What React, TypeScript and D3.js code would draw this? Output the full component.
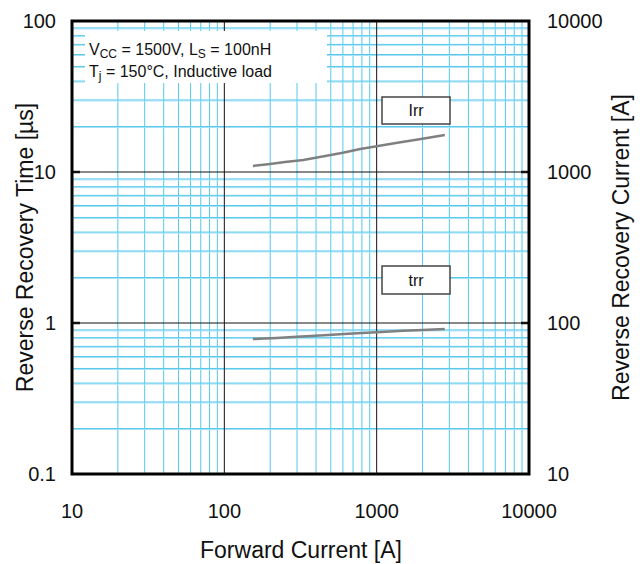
import React from "react";
import * as d3 from "d3";

const xTicks = [10, 100, 1000, 10000];
const yLeftTicks = [0.1, 1, 10, 100];
const yRightTicks = [10, 100, 1000, 10000];
const leftTickLabels = ["0.1", "1", "10", "100"];
const rightTickLabels = ["10", "100", "1000", "10000"];
const xTickLabels = ["10", "100", "1000", "10000"];

const irrCurrent = [154, 200, 250, 330, 450, 600, 780, 1000, 1400, 2000, 2800];
const irrValue = [1096, 1130, 1165, 1200, 1270, 1340, 1420, 1480, 1570, 1660, 1760];
const trrCurrent = [154, 220, 300, 450, 650, 1000, 1500, 2000, 2800];
const trrValue = [0.783, 0.795, 0.81, 0.83, 0.85, 0.87, 0.89, 0.9, 0.912];

const W = 640, H = 564;
const L = 72, R = 529, T = 21, B = 474;
const FONT = "'Liberation Sans', Arial, sans-serif";

export default function App() {
  const x = d3.scaleLog().domain([10, 10000]).range([L, R]);
  const yL = d3.scaleLog().domain([0.1, 100]).range([B, T]);
  const yR = d3.scaleLog().domain([10, 10000]).range([B, T]);

  const minorX: number[] = [];
  const minorY: number[] = [];
  for (let d = 10; d < 10000; d *= 10) for (let m = 2; m <= 9; m++) minorX.push(d * m);
  for (let d = 0.1; d < 99; d *= 10) for (let m = 2; m <= 9; m++) minorY.push(d * m);

  const irrLine = d3.line<number>().x((_, i) => x(irrCurrent[i])).y((v) => yR(v));
  const trrLine = d3.line<number>().x((_, i) => x(trrCurrent[i])).y((v) => yL(v));

  const blue = "#55c8ee";
  const blueLight = "#a9e2f4";

  return (
    <svg width={W} height={H} style={{ display: "block", position: "absolute", left: 0, top: 0 }} fontFamily={FONT}>
      <rect x={0} y={0} width={W} height={H} fill="#fff" />
      {minorX.map((v) => (
        <line key={"mx" + v} x1={x(v)} x2={x(v)} y1={T} y2={B} stroke={blue} strokeWidth={1} />
      ))}
      {minorY.map((v) => (
        <g key={"my" + v}>
          <line x1={L} x2={R} y1={yL(v) + 1} y2={yL(v) + 1} stroke={blueLight} strokeWidth={1} />
          <line x1={L} x2={R} y1={yL(v)} y2={yL(v)} stroke={blue} strokeWidth={1} />
        </g>
      ))}
      {xTicks.slice(1, -1).map((v) => (
        <line key={"Mx" + v} x1={x(v)} x2={x(v)} y1={T} y2={B} stroke="#111" strokeWidth={1} />
      ))}
      {yLeftTicks.slice(1, -1).map((v) => (
        <g key={"My" + v}>
          <line x1={L} x2={R} y1={yL(v)} y2={yL(v)} stroke="#111" strokeWidth={1} />
          <line x1={L} x2={L + 8} y1={yL(v)} y2={yL(v)} stroke="#111" strokeWidth={2.5} />
          <line x1={R - 8} x2={R} y1={yL(v)} y2={yL(v)} stroke="#111" strokeWidth={2.5} />
        </g>
      ))}
      <rect x={85} y={31} width={242} height={52} fill="#fff" />
      <text x={89} y={55} fontSize={16} fill="#111">
        V<tspan fontSize={12} dy={3}>CC</tspan>
        <tspan dy={-3}> = 1500V, L</tspan>
        <tspan fontSize={12} dy={3}>S</tspan>
        <tspan dy={-3}> = 100nH</tspan>
      </text>
      <text x={89} y={77} fontSize={16} fill="#111">
        T<tspan fontSize={12} dy={3}>j</tspan>
        <tspan dy={-3}> = 150°C, Inductive load</tspan>
      </text>
      <path d={irrLine(irrValue) || ""} fill="none" stroke="#808080" strokeWidth={2.5} />
      <path d={trrLine(trrValue) || ""} fill="none" stroke="#808080" strokeWidth={2.5} />
      <rect x={382} y={97} width={68} height={27} fill="#fff" stroke="#444" strokeWidth={1.5} />
      <text x={416} y={116} fontSize={16} textAnchor="middle" fill="#111">Irr</text>
      <rect x={382} y={266} width={68} height={28} fill="#fff" stroke="#444" strokeWidth={1.5} />
      <text x={416} y={286} fontSize={16} textAnchor="middle" fill="#111">trr</text>
      <rect x={L} y={T} width={R - L} height={B - T} fill="none" stroke="#000" strokeWidth={3} />
      {yLeftTicks.map((v, i) => (
        <text key={"lt" + v} x={56} y={yL(v) + 7} fontSize={20} textAnchor="end" fill="#111">{leftTickLabels[i]}</text>
      ))}
      {yRightTicks.map((v, i) => (
        <text key={"rt" + v} x={547} y={yR(v) + 7} fontSize={20} textAnchor="start" fill="#111">{rightTickLabels[i]}</text>
      ))}
      {xTicks.map((v, i) => (
        <text key={"xt" + v} x={x(v)} y={518} fontSize={20} textAnchor="middle" fill="#111">{xTickLabels[i]}</text>
      ))}
      <text x={301} y={558} fontSize={23} textAnchor="middle" fill="#111">Forward Current [A]</text>
      <text transform={`translate(33,${(T + B) / 2}) rotate(-90)`} fontSize={23} textAnchor="middle" fill="#111">Reverse Recovery Time [µs]</text>
      <text transform={`translate(629,${(T + B) / 2}) rotate(-90)`} fontSize={23} textAnchor="middle" fill="#111">Reverse Recovery Current [A]</text>
    </svg>
  );
}
